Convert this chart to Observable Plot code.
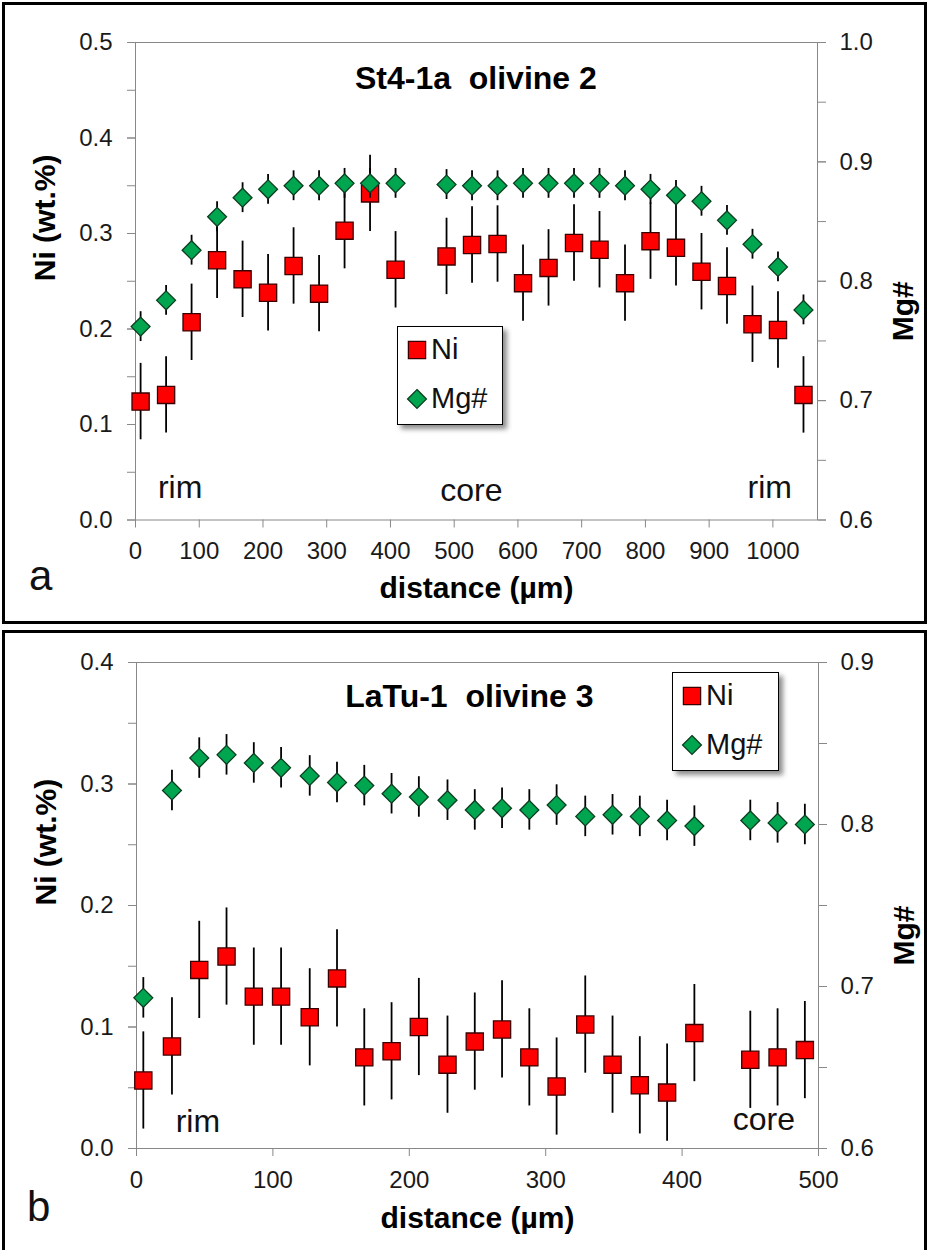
<!DOCTYPE html>
<html><head><meta charset="utf-8">
<script src="https://cdn.jsdelivr.net/npm/d3@7"></script>
<script src="https://cdn.jsdelivr.net/npm/@observablehq/plot@0.6"></script>
<style>
body{margin:0;background:#fff;font-family:'Liberation Sans',Arial,sans-serif;}
.panel{position:absolute;border:3px solid #000;background:#fff;box-sizing:content-box;}
.panel > svg{position:absolute;left:0;top:0;overflow:visible;}
.letter{position:absolute;font-size:42px;color:#111;line-height:1;}
.legend{position:absolute;background:#fff;border:1.5px solid #000;box-shadow:4px 4px 5px rgba(0,0,0,0.45);}
.legend .sw{position:absolute;overflow:visible;}
.legend .lt{position:absolute;font-size:29px;color:#111;line-height:1;}
</style></head><body>
<div id="pa" class="panel" style="left:2px;top:2px;width:919px;height:616px"></div>
<div id="pb" class="panel" style="left:2px;top:630px;width:919px;height:620px"></div>
<script>
// ---------- Panel a: St4-1a olivine 2 ----------
const distA = [8,48,88,128,168,208,248,288,328,368,408,488,528,568,608,648,688,728,768,808,848,888,928,968,1008,1048];
const niA   = [0.124,0.131,0.207,0.272,0.252,0.238,0.266,0.237,0.303,0.342,0.262,0.276,0.288,0.289,0.248,0.264,0.290,0.283,0.248,0.292,0.285,0.260,0.245,0.205,0.199,0.131];
const mgA   = [0.762,0.784,0.826,0.854,0.870,0.877,0.880,0.880,0.882,0.882,0.882,0.881,0.880,0.880,0.882,0.882,0.882,0.882,0.880,0.877,0.872,0.867,0.851,0.831,0.812,0.776];
const titleA = "St4-1a  olivine 2";
const notesA = [{x:70,y:0.034,text:"rim"},{x:527,y:0.031,text:"core"},{x:995,y:0.034,text:"rim"}];

// ---------- Panel b: LaTu-1 olivine 3 ----------
const distB = [5,26,46,66,86,106,127,147,167,187,207,228,248,268,288,308,329,349,369,389,409,450,470,490];
const niB   = [0.056,0.084,0.147,0.158,0.125,0.125,0.108,0.140,0.075,0.080,0.100,0.069,0.088,0.098,0.075,0.051,0.102,0.069,0.052,0.046,0.095,0.073,0.075,0.081];
const mgB   = [0.693,0.821,0.841,0.843,0.838,0.835,0.830,0.826,0.824,0.819,0.817,0.815,0.809,0.810,0.809,0.812,0.805,0.806,0.805,0.8025,0.799,0.8025,0.801,0.800];
const titleB = "LaTu-1  olivine 3";
const notesB = [{x:45,y:0.022,text:"rim"},{x:460,y:0.024,text:"core"}];

const niErr = 0.04, mgErr = 0.0125;
const xLabel = "distance (µm)", yLabel = "Ni (wt.%)", y2Label = "Mg#";
const RED = "#ff0000", REDS = "#3a0000", GREEN = "#00a550", GREENS = "#0a3d1f";
const rSq = 9.7, rDi = 8.5;

function panel(cfg){
  const data = cfg.dist.map((x,i)=>({x, ni:cfg.ni[i], mg:cfg.mg[i]}));
  const mgMap = d3.scaleLinear(cfg.mgDomain, cfg.yDomain);
  const nY = Math.round(cfg.yDomain[1]/0.05);
  const nMg = Math.round((cfg.mgDomain[1]-cfg.mgDomain[0])/0.05);
  const axisCommon = {stroke:"#888", fill:"#1a1a1a", label:null};
  const chart = Plot.plot({
    width: 919, height: cfg.height,
    marginLeft: cfg.ml, marginRight: cfg.mr, marginTop: cfg.mt, marginBottom: cfg.mb,
    style:{fontFamily:"'Liberation Sans', Arial, sans-serif", fontSize:"24px", color:"#1a1a1a", background:"transparent", overflow:"visible"},
    x:{domain: cfg.xDomain, label:null},
    y:{domain: cfg.yDomain, label:null},
    marks:[
      Plot.frame({stroke:"#888"}),
      Plot.axisX({...axisCommon, ticks: cfg.xTicks, tickSize:8, tickPadding:14, tickFormat: d=>String(d)}),
      Plot.axisY({...axisCommon, ticks: d3.range(0,nY+1).map(i=>i*0.05), tickSize:8, tickFormat: ()=>""}),
      Plot.axisY({...axisCommon, ticks: d3.range(0,nY/2+1).map(i=>i*0.1), tickSize:8, tickPadding:15, tickFormat: d=>d.toFixed(1)}),
      Plot.axisY({...axisCommon, anchor:"right", ticks: d3.range(0,nMg+1).map(i=>mgMap(cfg.mgDomain[0]+i*0.05)), tickSize:8, tickFormat: ()=>""}),
      Plot.axisY({...axisCommon, anchor:"right", ticks: d3.range(0,nMg/2+1).map(i=>mgMap(cfg.mgDomain[0]+i*0.1)), tickSize:8, tickPadding:14, tickFormat: d=>mgMap.invert(d).toFixed(1)}),
      // axis titles
      Plot.text([xLabel], {frameAnchor:"bottom", dy: cfg.xTitleDy, text:d=>d, fontSize:30, fontWeight:"bold", fill:"#000"}),
      Plot.text([yLabel], {frameAnchor:"left", dx: cfg.yTitleDx, rotate:-90, text:d=>d, fontSize:30, fontWeight:"bold", fill:"#000"}),
      Plot.text([y2Label], {frameAnchor:"right", dx: cfg.y2TitleDx, rotate:-90, text:d=>d, fontSize:30, fontWeight:"bold", fill:"#000"}),
      // title and notes
      Plot.text([cfg.title], {x: cfg.titlePos[0], y: cfg.titlePos[1], text:d=>d, fontSize:32, fontWeight:"bold", fill:"#000"}),
      Plot.text(cfg.notes, {x:"x", y:"y", text:"text", fontSize:32, fill:"#111"}),
      // Ni series
      Plot.ruleX(data, {x:"x", y1:d=>d.ni-niErr, y2:d=>d.ni+niErr, stroke:"#000", strokeWidth:1.8}),
      Plot.dot(data, {x:"x", y:"ni", symbol:"square", r:rSq, fill:RED, stroke:REDS, strokeWidth:1.3}),
      // Mg# series (right axis)
      Plot.ruleX(data, {x:"x", y1:d=>mgMap(d.mg-mgErr), y2:d=>mgMap(d.mg+mgErr), stroke:"#000", strokeWidth:1.8}),
      Plot.dot(data, {x:"x", y:d=>mgMap(d.mg), symbol:"diamond2", r:rDi, fill:GREEN, stroke:GREENS, strokeWidth:1.3})
    ]
  });
  const host = document.getElementById(cfg.id);
  host.appendChild(chart);
  // panel letter
  const L = document.createElement("div");
  L.className = "letter"; L.textContent = cfg.letter;
  L.style.left = cfg.letterPos[0]+"px"; L.style.top = cfg.letterPos[1]+"px";
  host.appendChild(L);
  // legend
  const lg = document.createElement("div");
  lg.className = "legend";
  Object.assign(lg.style, {left:cfg.legend[0]+"px", top:cfg.legend[1]+"px", width:cfg.legend[2]+"px", height:cfg.legend[3]+"px"});
  const items = [
    {label:"Ni", path:d3.symbol(d3.symbolSquare, Math.PI*rSq*rSq)(), fill:RED, stroke:REDS, cy:23},
    {label:"Mg#", path:d3.symbol(d3.symbolDiamond2, Math.PI*rDi*rDi)(), fill:GREEN, stroke:GREENS, cy:72}
  ];
  for (const it of items){
    const s = d3.create("svg").attr("class","sw").attr("width",30).attr("height",30)
      .style("left","4px").style("top",(it.cy-15)+"px");
    s.append("path").attr("d",it.path).attr("transform","translate(15,15)")
      .attr("fill",it.fill).attr("stroke",it.stroke).attr("stroke-width",1.3);
    lg.appendChild(s.node());
    const t = document.createElement("div");
    t.className = "lt"; t.textContent = it.label;
    t.style.left = "33px"; t.style.top = (it.cy-15)+"px";
    lg.appendChild(t);
  }
  host.appendChild(lg);
}

panel({id:"pa", dist:distA, ni:niA, mg:mgA, title:titleA, notes:notesA,
  height:616, ml:130, mr:107, mt:37, mb:101.5,
  xDomain:[0,1070], yDomain:[0,0.5], mgDomain:[0.6,1.0], xTicks:d3.range(0,1001,100),
  xTitleDy:78, yTitleDx:-90, y2TitleDx:86, titlePos:[534,0.462],
  letter:"a", letterPos:[24,550], legend:[392,321,104,97]});

panel({id:"pb", dist:distB, ni:niB, mg:mgB, title:titleB, notes:notesB,
  height:620, ml:131, mr:106, mt:29, mb:105,
  xDomain:[0,500], yDomain:[0,0.4], mgDomain:[0.6,0.9], xTicks:d3.range(0,501,100),
  xTitleDy:79, yTitleDx:-90, y2TitleDx:86, titlePos:[244,0.372],
  letter:"b", letterPos:[22,553], legend:[667,39,105,97]});
</script>
</body></html>
